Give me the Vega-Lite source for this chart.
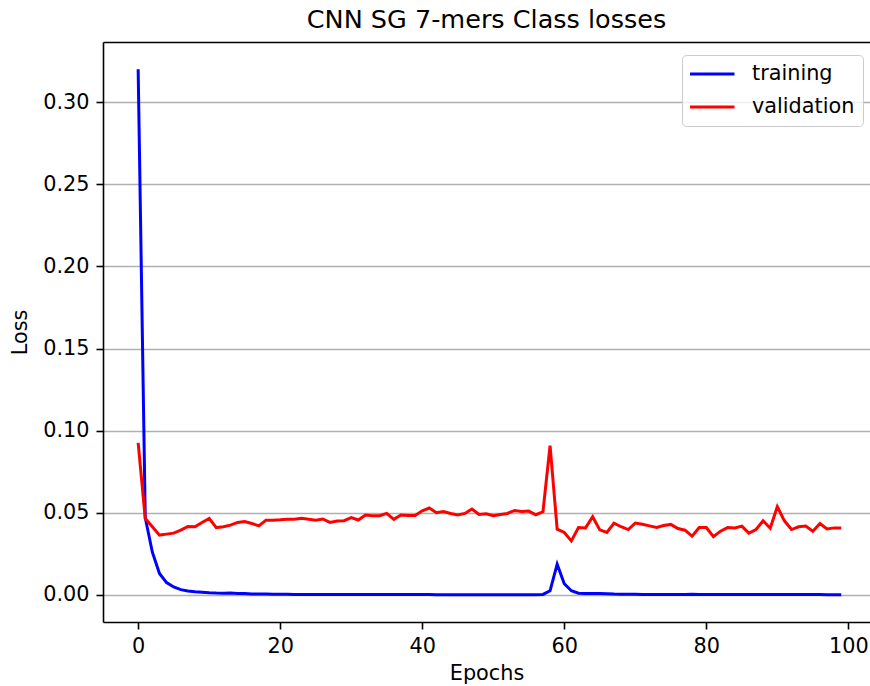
{
  "$schema": "https://vega.github.io/schema/vega-lite/v6.json",
  "autosize": {"type": "none"},
  "padding": {"left": 103, "top": 42, "right": 0, "bottom": 64},
  "width": 767,
  "height": 580,
  "background": "white",
  "title": {"text": "CNN SG 7-mers Class losses", "font": "DejaVu Sans", "fontSize": 25.5, "fontWeight": "normal", "color": "black", "anchor": "middle", "offset": -11, "baseline": "alphabetic"},
  "config": {
    "view": {"stroke": null},
    "axis": {"labelFont": "DejaVu Sans", "labelFontSize": 20.8, "labelColor": "black", "titleFont": "DejaVu Sans", "titleFontSize": 20.8, "titleFontWeight": "normal", "titleColor": "black", "domainColor": "black", "domainWidth": 1.6, "tickColor": "black", "tickWidth": 1.6, "tickSize": 7, "labelPadding": 7, "titlePadding": 8}
  },
  "data": {"values": [
    {"epoch":0,"training":0.320,"validation":0.0925},
    {"epoch":1,"training":0.047,"validation":0.0465},
    {"epoch":2,"training":0.026,"validation":0.0415},
    {"epoch":3,"training":0.013,"validation":0.0364},
    {"epoch":4,"training":0.0075,"validation":0.0370},
    {"epoch":5,"training":0.0048,"validation":0.0376},
    {"epoch":6,"training":0.0032,"validation":0.0394},
    {"epoch":7,"training":0.0024,"validation":0.0417},
    {"epoch":8,"training":0.0019,"validation":0.0415},
    {"epoch":9,"training":0.0016,"validation":0.0441},
    {"epoch":10,"training":0.0013,"validation":0.0466},
    {"epoch":11,"training":0.0011,"validation":0.0410},
    {"epoch":12,"training":0.0010,"validation":0.0415},
    {"epoch":13,"training":0.0011,"validation":0.0425},
    {"epoch":14,"training":0.0009,"validation":0.0441},
    {"epoch":15,"training":0.0008,"validation":0.0447},
    {"epoch":16,"training":0.0006,"validation":0.0435},
    {"epoch":17,"training":0.0005,"validation":0.0420},
    {"epoch":18,"training":0.0005,"validation":0.0455},
    {"epoch":19,"training":0.0004,"validation":0.0455},
    {"epoch":20,"training":0.0004,"validation":0.0457},
    {"epoch":21,"training":0.0004,"validation":0.0460},
    {"epoch":22,"training":0.0003,"validation":0.0460},
    {"epoch":23,"training":0.0003,"validation":0.0466},
    {"epoch":24,"training":0.0003,"validation":0.0460},
    {"epoch":25,"training":0.0003,"validation":0.0455},
    {"epoch":26,"training":0.0003,"validation":0.0462},
    {"epoch":27,"training":0.0003,"validation":0.0441},
    {"epoch":28,"training":0.0002,"validation":0.0450},
    {"epoch":29,"training":0.0002,"validation":0.0452},
    {"epoch":30,"training":0.0002,"validation":0.0470},
    {"epoch":31,"training":0.0002,"validation":0.0456},
    {"epoch":32,"training":0.0002,"validation":0.0486},
    {"epoch":33,"training":0.0002,"validation":0.0482},
    {"epoch":34,"training":0.0002,"validation":0.0482},
    {"epoch":35,"training":0.0002,"validation":0.0496},
    {"epoch":36,"training":0.0002,"validation":0.0460},
    {"epoch":37,"training":0.0002,"validation":0.0486},
    {"epoch":38,"training":0.0002,"validation":0.0484},
    {"epoch":39,"training":0.0002,"validation":0.0484},
    {"epoch":40,"training":0.0002,"validation":0.0512},
    {"epoch":41,"training":0.0002,"validation":0.0529},
    {"epoch":42,"training":0.0001,"validation":0.0500},
    {"epoch":43,"training":0.0001,"validation":0.0508},
    {"epoch":44,"training":0.0001,"validation":0.0496},
    {"epoch":45,"training":0.0001,"validation":0.0486},
    {"epoch":46,"training":0.0001,"validation":0.0496},
    {"epoch":47,"training":0.0001,"validation":0.0523},
    {"epoch":48,"training":0.0001,"validation":0.0490},
    {"epoch":49,"training":0.0001,"validation":0.0494},
    {"epoch":50,"training":0.0001,"validation":0.0482},
    {"epoch":51,"training":0.0001,"validation":0.0490},
    {"epoch":52,"training":0.0001,"validation":0.0496},
    {"epoch":53,"training":0.0001,"validation":0.0514},
    {"epoch":54,"training":0.0001,"validation":0.0508},
    {"epoch":55,"training":0.0001,"validation":0.0510},
    {"epoch":56,"training":0.0001,"validation":0.0488},
    {"epoch":57,"training":0.0003,"validation":0.0506},
    {"epoch":58,"training":0.0025,"validation":0.0909},
    {"epoch":59,"training":0.0187,"validation":0.0400},
    {"epoch":60,"training":0.0068,"validation":0.0380},
    {"epoch":61,"training":0.0025,"validation":0.0329},
    {"epoch":62,"training":0.0010,"validation":0.0410},
    {"epoch":63,"training":0.0008,"validation":0.0408},
    {"epoch":64,"training":0.0008,"validation":0.0476},
    {"epoch":65,"training":0.0009,"validation":0.0396},
    {"epoch":66,"training":0.0007,"validation":0.0380},
    {"epoch":67,"training":0.0005,"validation":0.0437},
    {"epoch":68,"training":0.0004,"validation":0.0415},
    {"epoch":69,"training":0.0004,"validation":0.0398},
    {"epoch":70,"training":0.0004,"validation":0.0437},
    {"epoch":71,"training":0.0003,"validation":0.0430},
    {"epoch":72,"training":0.0003,"validation":0.0420},
    {"epoch":73,"training":0.0003,"validation":0.0410},
    {"epoch":74,"training":0.0003,"validation":0.0422},
    {"epoch":75,"training":0.0003,"validation":0.0429},
    {"epoch":76,"training":0.0003,"validation":0.0404},
    {"epoch":77,"training":0.0003,"validation":0.0394},
    {"epoch":78,"training":0.0004,"validation":0.0358},
    {"epoch":79,"training":0.0003,"validation":0.0410},
    {"epoch":80,"training":0.0003,"validation":0.0410},
    {"epoch":81,"training":0.0002,"validation":0.0354},
    {"epoch":82,"training":0.0002,"validation":0.0388},
    {"epoch":83,"training":0.0002,"validation":0.0410},
    {"epoch":84,"training":0.0002,"validation":0.0408},
    {"epoch":85,"training":0.0002,"validation":0.0419},
    {"epoch":86,"training":0.0002,"validation":0.0376},
    {"epoch":87,"training":0.0002,"validation":0.0398},
    {"epoch":88,"training":0.0002,"validation":0.0451},
    {"epoch":89,"training":0.0002,"validation":0.0406},
    {"epoch":90,"training":0.0002,"validation":0.0537},
    {"epoch":91,"training":0.0002,"validation":0.0451},
    {"epoch":92,"training":0.0002,"validation":0.0398},
    {"epoch":93,"training":0.0002,"validation":0.0415},
    {"epoch":94,"training":0.0002,"validation":0.0419},
    {"epoch":95,"training":0.0002,"validation":0.0388},
    {"epoch":96,"training":0.0002,"validation":0.0435},
    {"epoch":97,"training":0.0001,"validation":0.0402},
    {"epoch":98,"training":0.0001,"validation":0.0408},
    {"epoch":99,"training":0.0001,"validation":0.0408}
  ]},
  "transform": [{"fold": ["training", "validation"], "as": ["series", "loss"]}],
  "layer": [
    {
      "mark": {"type": "rule", "opacity": 0},
      "encoding": {
        "x": {"field": "epoch", "type": "quantitative", "scale": {"domain": [-4.95, 103.05], "nice": false, "zero": false},
          "axis": {"orient": "top", "labels": false, "ticks": false, "title": null, "grid": false, "domain": true, "minExtent": 0, "maxExtent": 0}}
      }
    },
    {
      "mark": {"type": "line", "strokeWidth": 3, "clip": true},
      "encoding": {
        "x": {"field": "epoch", "type": "quantitative", "scale": {"domain": [-4.95, 103.05], "nice": false, "zero": false},
          "axis": {"orient": "bottom", "values": [0, 20, 40, 60, 80, 100], "grid": false, "title": "Epochs", "labelFlush": false, "labelOverlap": false}},
        "y": {"field": "loss", "type": "quantitative", "scale": {"domain": [-0.0165, 0.3366], "nice": false, "zero": false},
          "axis": {"values": [0, 0.05, 0.1, 0.15, 0.2, 0.25, 0.3], "format": ".2f", "grid": true, "gridColor": "#b0b0b0", "gridWidth": 1.6, "title": "Loss", "titlePadding": 12, "labelOverlap": false}},
        "color": {"field": "series", "type": "nominal",
          "scale": {"domain": ["training", "validation"], "range": ["#0000ff", "#ff0000"]},
          "legend": {"title": null, "orient": "none", "legendX": 579, "legendY": 13, "symbolType": "stroke", "symbolSize": 2116, "symbolStrokeWidth": 3, "symbolOffset": -3, "clipHeight": 22,
            "labelFont": "DejaVu Sans", "labelFontSize": 20.8, "labelColor": "black", "labelOffset": 16, "rowPadding": 11, "padding": 8,
            "fillColor": "rgba(255,255,255,0.8)", "strokeColor": "#cccccc", "cornerRadius": 4}}
      }
    }
  ]
}
